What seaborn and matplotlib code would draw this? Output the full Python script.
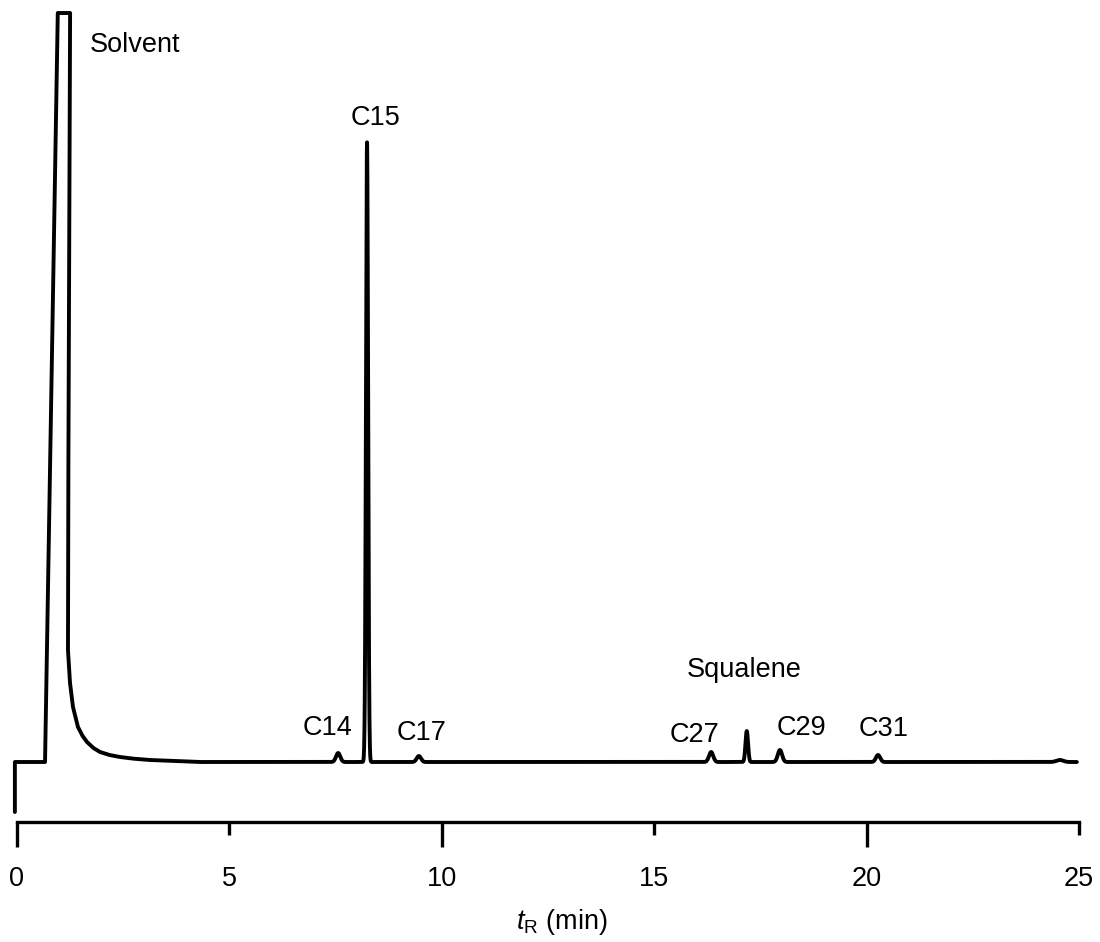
import numpy as np
import pandas as pd
import matplotlib
matplotlib.use("Agg")
import matplotlib.pyplot as plt
import seaborn as sns

# Off-scale solvent front outline: retention time (min), detector response (a.u.)
solvent_t = [-0.05, -0.05, 0.66, 0.96, 1.25, 1.21, 1.20, 1.248, 1.318, 1.435,
             1.545, 1.648, 1.80, 1.954, 2.18, 2.425, 2.75, 3.131, 3.70, 4.308]
solvent_v = [-50, 0, 0, 749, 749, 300, 112, 79, 55, 35,
             26, 20, 14, 10, 7, 5, 3.3, 2, 1, 0]

# Analyte peaks: retention time (min), height and width (sigma, min)
peak_times = [7.56, 8.24, 9.46, 16.34, 17.18, 17.96, 20.27, 24.55]
peak_heights = [9, 620, 6, 10, 31, 12, 7, 2]
peak_sigmas = [0.05, 0.025, 0.05, 0.05, 0.03, 0.05, 0.05, 0.08]

# Peak labels and where they sit (time, response at text baseline)
label_text = ["Solvent", "C15", "C14", "C17", "C27", "Squalene", "C29", "C31"]
label_t = [1.72, 8.43, 7.32, 9.53, 15.94, 17.11, 18.46, 20.39]
label_v = [710, 637, 27, 22, 20, 85, 27, 26]
label_ha = ["left", "center", "center", "center", "center", "center", "center", "center"]

run_end = 24.95
x_ticks_major = [0, 10, 20]
x_ticks_minor = [5, 15, 25]

# Build the detector trace after the solvent tail from the peak table
t_run = np.linspace(solvent_t[-1], run_end, 8000)[1:]
v_run = np.zeros_like(t_run)
for tr, h, s in zip(peak_times, peak_heights, peak_sigmas):
    v_run += h * np.exp(-0.5 * ((t_run - tr) / s) ** 2)

trace = pd.DataFrame({
    "t": np.concatenate([solvent_t, t_run]),
    "signal": np.concatenate([solvent_v, v_run]),
})

sns.set_theme(style="white")
plt.rcParams["font.family"] = ["Liberation Sans", "DejaVu Sans"]
plt.rcParams["mathtext.fontset"] = "custom"
plt.rcParams["mathtext.rm"] = "Liberation Sans"
plt.rcParams["mathtext.it"] = "Liberation Sans:italic"

fig = plt.figure(figsize=(11, 9.42), dpi=100)
ax = fig.add_axes([0, 0, 1096 / 1100, 1])

sns.lineplot(data=trace, x="t", y="signal", sort=False, estimator=None,
             color="black", linewidth=2.8, ax=ax)

ax.set_xlim(-0.4002, 25.401)
ax.set_ylim(-180, 762)

for txt, t, v, ha in zip(label_text, label_t, label_v, label_ha):
    ax.text(t, v, txt, ha=ha, va="baseline", fontsize=19.5, color="black")

for side in ["left", "top", "right"]:
    ax.spines[side].set_visible(False)
ax.spines["bottom"].set_position(("data", -60))
ax.spines["bottom"].set_bounds(0, 25)
ax.spines["bottom"].set_linewidth(2.4)
ax.spines["bottom"].set_color("black")

ax.set_yticks([])
ax.set_xticks(x_ticks_major)
ax.set_xticklabels([str(v) for v in x_ticks_major])
ax.set_xticks(x_ticks_minor, minor=True)
ax.set_xticklabels([str(v) for v in x_ticks_minor], minor=True)
ax.tick_params(axis="x", which="major", direction="out", length=18, width=2.4,
               pad=14, labelsize=19.5, colors="black", bottom=True)
ax.tick_params(axis="x", which="minor", direction="out", length=9, width=2.4,
               pad=23, labelsize=19.5, colors="black", bottom=True)

ax.set_xlabel(r"$t_{\mathrm{R}}$ (min)", fontsize=19.5, color="black")
ax.xaxis.set_label_coords(0.5128, 0.0372)
ax.xaxis.label.set_verticalalignment("top")
ax.set_ylabel("")

fig.savefig("out.png", dpi=100, facecolor="white")
